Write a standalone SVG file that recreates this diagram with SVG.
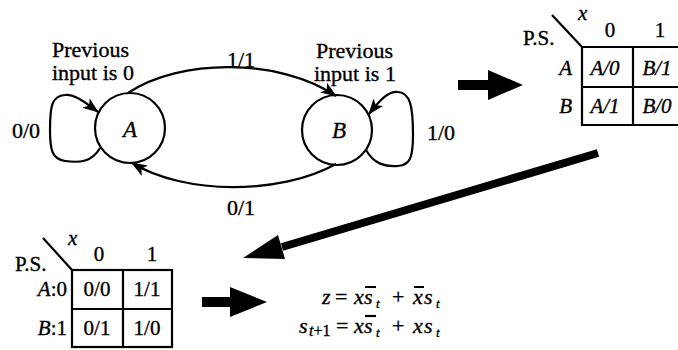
<svg xmlns="http://www.w3.org/2000/svg" width="678" height="350" viewBox="0 0 678 350">
<style>
.t{font-family:"Liberation Serif","Times New Roman",serif;font-size:22px;fill:#000;stroke:#000;stroke-width:0.35}
.s21{font-size:21px}
.i{font-style:italic}
.m{text-anchor:middle}
.e{text-anchor:end}
.ln{fill:none;stroke:#000;stroke-width:2.2}
.fill{fill:#000;stroke:none}
</style>
<defs>
<marker id="ah" viewBox="0 0 16 12" refX="15" refY="6" markerWidth="16" markerHeight="12" markerUnits="userSpaceOnUse" orient="auto">
<path d="M0,0 L16,6 L0,12 L4,6 Z" fill="#000"/>
</marker>
</defs>
<rect width="678" height="350" fill="#fff"/>

<g id="stateA">
<circle class="ln" cx="130" cy="128" r="35"/>
<text class="t i m" x="130" y="137" style="font-size:23px">A</text>
<text class="t" x="52" y="57">Previous</text>
<text class="t" x="52" y="80">input is 0</text>
</g>
<g id="stateB">
<circle class="ln" cx="337" cy="130" r="35"/>
<text class="t i m" x="339" y="138" style="font-size:23px">B</text>
<text class="t" x="316" y="58">Previous</text>
<text class="t" x="314" y="81">input is 1</text>
</g>

<g id="connectors">
<path class="ln" marker-end="url(#ah)" d="M128,93 C180,58 280,58 336,96"/>
<path class="ln" marker-end="url(#ah)" d="M336,164 C280,195 185,195 132,163"/>
<path class="ln" marker-end="url(#ah)" d="M100,148 C92,162 80,163 65,161 C52,159 50,150 50,130 C50,105 52,96 65,95 C75,94 86,103 98,112"/>
<path class="ln" marker-end="url(#ah)" d="M366,150 C374,164 385,167 398,166 C410,165 413,158 413,135 C413,105 410,93 398,92 C388,91 380,100 369,114"/>
<text class="t" x="227" y="67">1/1</text>
<text class="t" x="227" y="215">0/1</text>
<text class="t" x="12" y="138">0/0</text>
<text class="t" x="427" y="140">1/0</text>
</g>

<g id="arrows">
<polygon class="fill" points="458,80 488,80 488,70 523,85 488,100 488,90 458,90"/>
<line x1="598" y1="153" x2="282" y2="247" stroke="#000" stroke-width="8"/>
<polygon class="fill" points="243,258 278,235 285,259"/>
<polygon class="fill" points="202,297 230,297 230,287 267,302 230,317 230,307 202,307"/>
</g>

<g id="table1">
<path class="ln" d="M552,15 L582,47 M678,47 L582,47 L582,125 L678,125 M582,87 L678,87 M633,47 L633,125"/>
<text class="t s21 i" x="578" y="20">x</text>
<text class="t s21 m" x="610" y="37">0</text>
<text class="t s21 m" x="660" y="37">1</text>
<text class="t s21" x="523" y="45">P.S.</text>
<text class="t s21 i e" x="572" y="75">A</text>
<text class="t s21 i e" x="572" y="113">B</text>
<text class="t s21 i m" x="605" y="75">A/0</text>
<text class="t s21 i m" x="657" y="75">B/1</text>
<text class="t s21 i m" x="605" y="113">A/1</text>
<text class="t s21 i m" x="657" y="113">B/0</text>
</g>

<g id="table2">
<path class="ln" d="M43,238 L72,270"/>
<rect class="ln" x="72" y="270" width="100" height="77"/>
<path class="ln" d="M72,309 L172,309 M123,270 L123,347"/>
<text class="t s21 i" x="68" y="245">x</text>
<text class="t s21 m" x="99" y="261">0</text>
<text class="t s21 m" x="152" y="261">1</text>
<text class="t s21" x="15" y="271">P.S.</text>
<text class="t s21 e" x="67" y="296"><tspan class="i">A</tspan>:0</text>
<text class="t s21 e" x="67" y="335"><tspan class="i">B</tspan>:1</text>
<text class="t s21 m" x="97" y="296">0/0</text>
<text class="t s21 m" x="147" y="296">1/1</text>
<text class="t s21 m" x="97" y="335">0/1</text>
<text class="t s21 m" x="147" y="335">1/0</text>
</g>

<g id="formula">
<text class="t i" x="322" y="304">z</text>
<text class="t" x="335" y="304">=</text>
<text class="t i" x="354" y="304">x</text>
<text class="t i" x="364" y="304">s</text>
<text class="t i" x="376" y="308" style="font-size:13px">t</text>
<text class="t" x="392" y="304">+</text>
<text class="t i" x="413" y="304">x</text>
<text class="t i" x="424" y="304">s</text>
<text class="t i" x="436" y="308" style="font-size:13px">t</text>
<path class="ln" stroke-width="1.6" d="M365,287 L376,287 M414,287 L424,287"/>

<text class="t i" x="299" y="333">s</text>
<text class="t" x="309" y="336" style="font-size:16px"><tspan class="i">t</tspan>+1</text>
<text class="t" x="336" y="333">=</text>
<text class="t i" x="354" y="333">x</text>
<text class="t i" x="364" y="333">s</text>
<text class="t i" x="376" y="337" style="font-size:13px">t</text>
<text class="t" x="392" y="333">+</text>
<text class="t i" x="413" y="333">x</text>
<text class="t i" x="424" y="333">s</text>
<text class="t i" x="436" y="337" style="font-size:13px">t</text>
<path class="ln" stroke-width="1.6" d="M365,316 L376,316"/>
</g>
</svg>
